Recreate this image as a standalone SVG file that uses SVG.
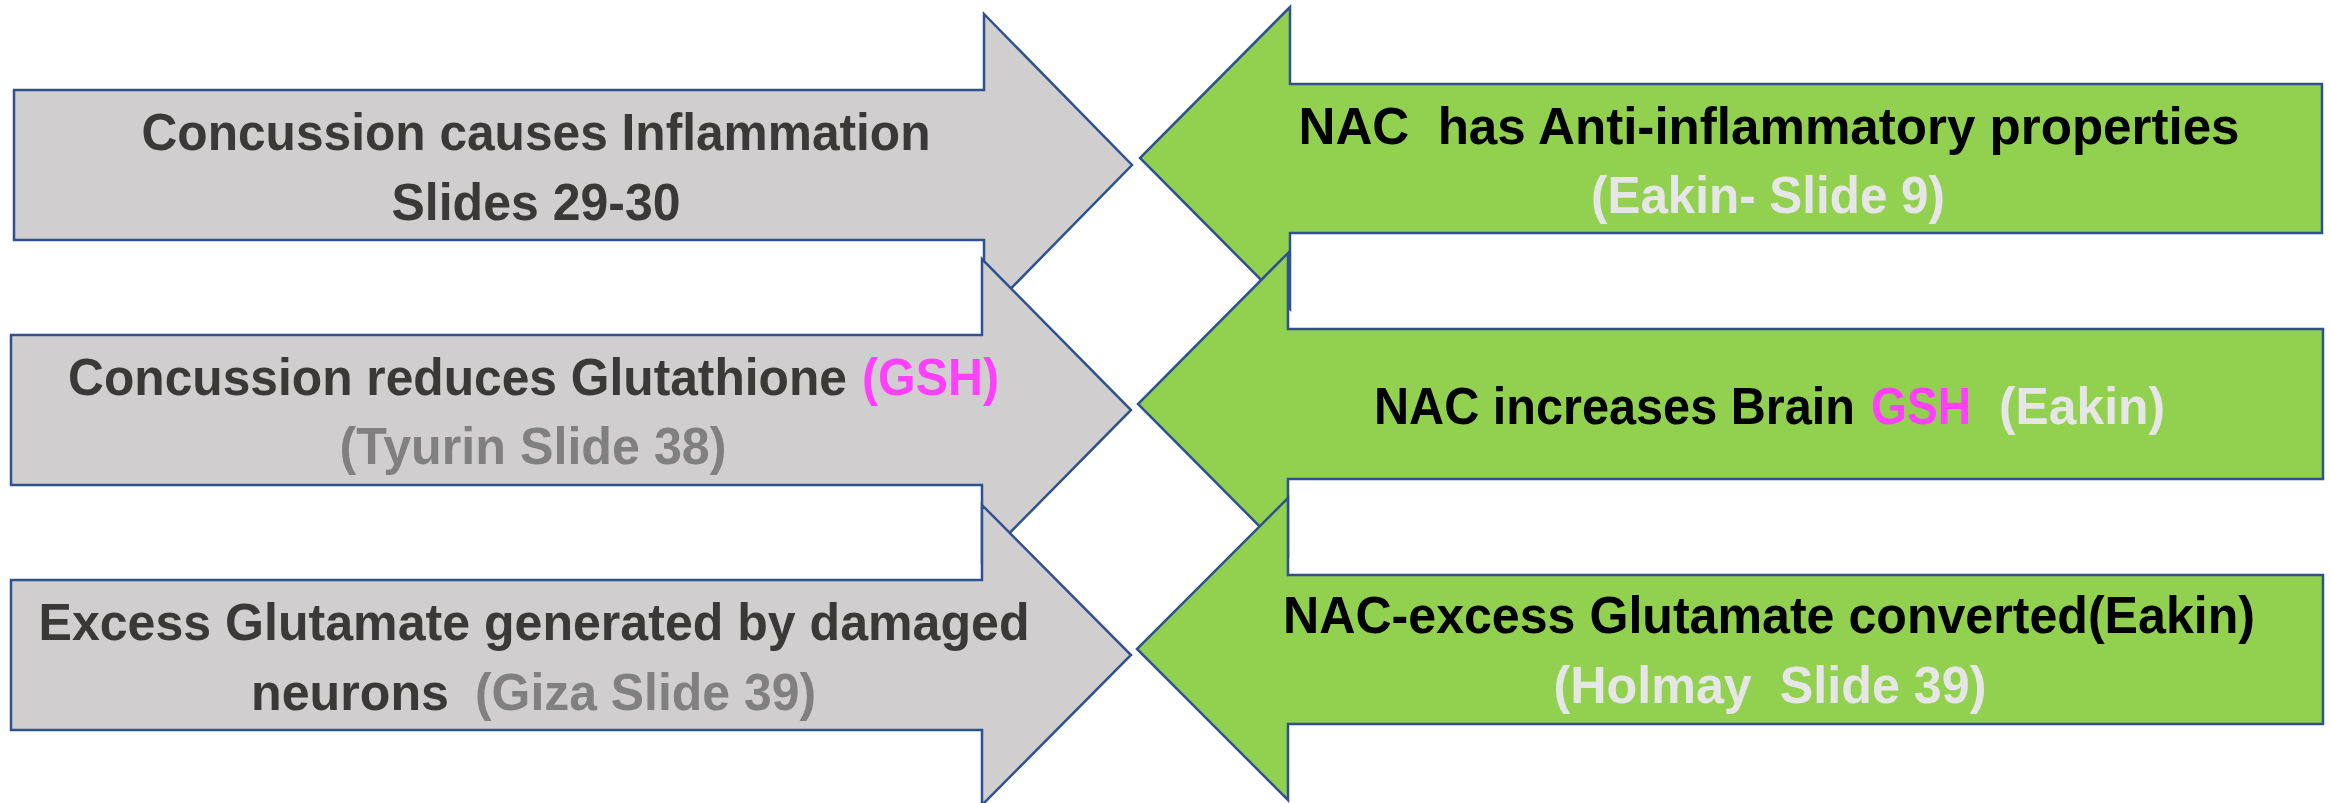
<svg xmlns="http://www.w3.org/2000/svg" width="2331" height="803" viewBox="0 0 2331 803">
<style>
.arrow{stroke:#2F528F;stroke-width:2.5;stroke-linejoin:miter}
.gray{fill:#D0CECE}
.green{fill:#92D050}
text{font-family:"Liberation Sans",Arial,sans-serif;font-weight:bold;font-size:52px;text-anchor:middle;white-space:pre}
text.s{text-anchor:start}
.dk{fill:#3B3838}
.bk{fill:#000000}
.cg{fill:#808080}
.cl{fill:#E7E6E6}
.mg{fill:#FF40FF}
</style>
<rect width="2331" height="803" fill="#FFFFFF"/>
<g id="connectors"></g>
<g id="node-left-1">
<path class="arrow gray" d="M14,90 H984 V14 L1132,165 L984,316 V240 H14 Z"/>
<text class="dk" x="536" y="150" textLength="789" lengthAdjust="spacingAndGlyphs">Concussion causes Inflammation</text>
<text class="dk" x="536" y="220" textLength="289" lengthAdjust="spacingAndGlyphs">Slides 29-30</text>
</g>
<g id="node-left-2">
<path class="arrow gray" d="M11,335 H982 V259 L1131,410 L982,561 V485 H11 Z"/>
<text class="dk s" x="68" y="395" textLength="779" lengthAdjust="spacingAndGlyphs">Concussion reduces Glutathione</text>
<text class="mg s" x="862" y="395" textLength="137" lengthAdjust="spacingAndGlyphs">(GSH)</text>
<text class="cg" x="533" y="464" textLength="387" lengthAdjust="spacingAndGlyphs">(Tyurin Slide 38)</text>
</g>
<g id="node-left-3">
<path class="arrow gray" d="M11,580 H982 V505 L1131,655 L982,805 V730 H11 Z"/>
<text class="dk" x="534" y="640" textLength="991" lengthAdjust="spacingAndGlyphs">Excess Glutamate generated by damaged</text>
<text class="dk s" x="251" y="710" textLength="198" lengthAdjust="spacingAndGlyphs">neurons</text>
<text class="cg s" x="475" y="710" textLength="341" lengthAdjust="spacingAndGlyphs">(Giza Slide 39)</text>
</g>
<g id="node-right-1">
<path class="arrow green" d="M2322,84 H1290 V7 L1140,158 L1290,309 V233 H2322 Z"/>
<text class="bk" x="1769" y="144" textLength="941" lengthAdjust="spacingAndGlyphs">NAC  has Anti-inflammatory properties</text>
<text class="cl" x="1768" y="213" textLength="354" lengthAdjust="spacingAndGlyphs">(Eakin- Slide 9)</text>
</g>
<g id="node-right-2">
<path class="arrow green" d="M2323,329 H1288 V253 L1138,404 L1288,555 V479 H2323 Z"/>
<text class="bk s" x="1374" y="424" textLength="481" lengthAdjust="spacingAndGlyphs">NAC increases Brain</text>
<text class="mg s" x="1871" y="424" textLength="100" lengthAdjust="spacingAndGlyphs">GSH</text>
<text class="cl s" x="1999" y="424" textLength="166" lengthAdjust="spacingAndGlyphs">(Eakin)</text>
</g>
<g id="node-right-3">
<path class="arrow green" d="M2323,575 H1288 V498 L1137,649 L1288,800 V724 H2323 Z"/>
<text class="bk" x="1769" y="633" textLength="972" lengthAdjust="spacingAndGlyphs">NAC-excess Glutamate converted(Eakin)</text>
<text class="cl" x="1770" y="703" textLength="433" lengthAdjust="spacingAndGlyphs">(Holmay  Slide 39)</text>
</g>
</svg>
